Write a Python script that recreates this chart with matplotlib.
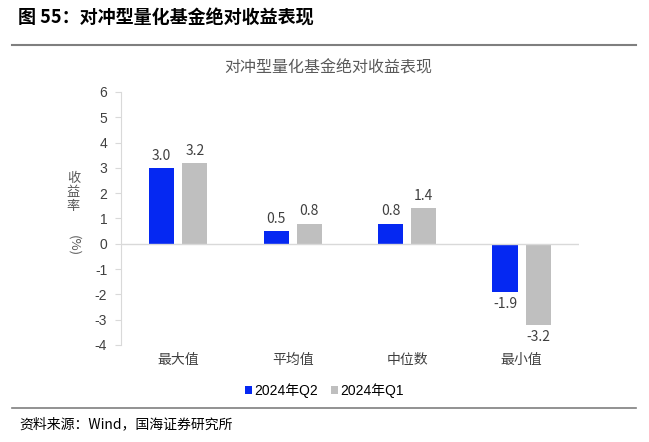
import matplotlib; matplotlib.use('Agg')

import matplotlib.pyplot as plt
import numpy as np

plt.rcParams['font.family'] = ['Noto Sans CJK SC', 'DejaVu Sans']

categories = ["最大值", "平均值", "中位数", "最小值"]
q2 = [3.0, 0.5, 0.8, -1.9]
q1 = [3.2, 0.8, 1.4, -3.2]
series_names = ["2024年Q2", "2024年Q1"]

blue = '#0528F2'
grey = '#BFBFBF'
txt = '#404040'

fig = plt.figure(figsize=(6.49, 4.42), dpi=100)
ax = fig.add_axes([0.1865, 0.2195, 0.7055, 0.5725])

x = np.arange(len(categories))
w = 0.22
b1 = ax.bar(x - 0.145, q2, w, color=blue, label=series_names[0])
b2 = ax.bar(x + 0.145, q1, w, color=grey, label=series_names[1])

for bars, vals in ((b1, q2), (b2, q1)):
    for r, v in zip(bars, vals):
        cx = r.get_x() + r.get_width() / 2
        if v >= 0:
            ax.text(cx, v + 0.2, "%.1f" % v, ha='center', va='bottom',
                    fontsize=10, color=txt)
        else:
            ax.text(cx, v - 0.2, "%.1f" % v, ha='center', va='top',
                    fontsize=10, color=txt)

ax.set_xlim(-0.5, 3.5)
ax.set_ylim(-4, 6)
ax.set_yticks(range(-4, 7))
ax.set_yticklabels([str(t) for t in range(-4, 7)],
                   family='Liberation Sans', fontsize=10, color=txt)
ax.set_xticks(x)
ax.set_xticklabels(categories, fontsize=10, color=txt)
ax.tick_params(axis='x', length=0, pad=6)
ax.tick_params(axis='y', length=4, color='#D9D9D9', pad=6)
for s in ['top', 'right', 'bottom']:
    ax.spines[s].set_visible(False)
ax.spines['left'].set_color('#D9D9D9')
ax.axhline(0, color='#D9D9D9', lw=1)

fig.text(0.113, 0.565, "收\n益\n率", ha='center', va='center', fontsize=9.5,
         color='#595959', linespacing=1.1)
fig.text(0.113, 0.445, "(%)", ha='center', va='center', fontsize=9.5,
         color='#595959', rotation=-90)

fig.legend(loc='center', bbox_to_anchor=(0.5, 0.117), ncol=2, frameon=False,
           handlelength=0.5, handleheight=0.5, handletextpad=0.2,
           columnspacing=0.9, prop={'family': ['Liberation Sans', 'Noto Sans CJK SC'], 'size': 10})

fig.text(0.028, 0.958, "图 55：对冲型量化基金绝对收益表现", fontsize=13,
         fontweight='bold', va='center', ha='left', color='black')
fig.add_artist(plt.Line2D([0.018, 0.98], [0.898, 0.898], color='#7F7F7F', lw=1.5))
fig.text(0.505, 0.845, "对冲型量化基金绝对收益表现", fontsize=11.5,
         ha='center', va='center', color='#595959')
fig.add_artist(plt.Line2D([0.018, 0.98], [0.078, 0.078], color='#7F7F7F', lw=1.2))
fig.text(0.03, 0.04, "资料来源：Wind，国海证券研究所", fontsize=10,
         ha='left', va='center', color='black')

plt.savefig("out.png")
